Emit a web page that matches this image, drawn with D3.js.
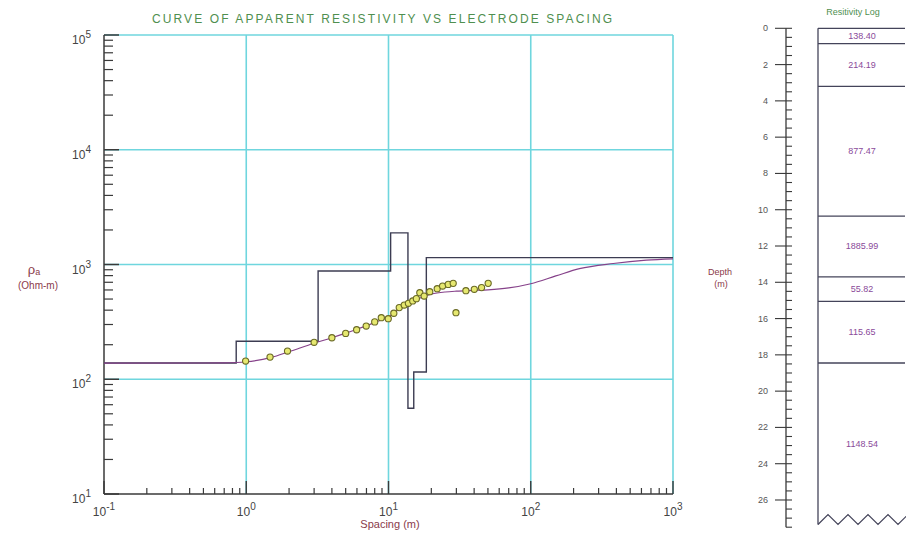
<!DOCTYPE html>
<html>
<head>
<meta charset="utf-8">
<script src="https://cdn.jsdelivr.net/npm/d3@7"></script>
<style>
  html, body { margin: 0; padding: 0; background: #fff; }
  svg { display: block; }
  text { font-family: "Liberation Sans", Arial, sans-serif; }
</style>
</head>
<body>
<svg id="chart" width="906" height="533"></svg>
<script>
// Field sounding: electrode spacing (m) and measured apparent resistivity (Ohm-m)
const spacing = [0.99, 1.47, 1.95, 3.0, 4.0, 5.0, 5.97, 6.97, 8.0, 8.9, 9.96, 10.9, 11.9, 12.9, 13.8, 14.8, 15.7, 16.6, 17.8, 19.5, 22.0, 24.0, 26.3, 28.5, 29.8, 35, 40.1, 45.1, 50.2];
const apparentRho = [144, 156, 176, 210, 230, 251, 270, 291, 316, 344, 337, 376, 421, 443, 459, 481, 504, 568, 531, 579, 615, 649, 671, 685, 380, 591, 608, 629, 685];

// Computed response of the layered model
const modelSpacing = [0.1, 0.5, 0.7, 1.0, 1.5, 2.0, 3.0, 4.0, 5.0, 6.0, 7.0, 8.0, 10, 12, 14, 16, 18, 20, 25, 30, 40, 50, 70, 100, 150, 220, 380, 650, 1000];
const modelRho = [138.4, 138.5, 139, 142, 155, 174, 206, 230, 252, 273, 293, 313, 350, 415, 460, 498, 532, 552, 576, 586, 595, 602, 625, 680, 795, 920, 1020, 1090, 1120];

// Interpreted layers: resistivity (Ohm-m) and depth to the bottom of each layer (m)
const layerRho = [138.40, 214.19, 877.47, 1885.99, 55.82, 115.65, 1148.54];
const layerBottom = [0.85, 3.2, 10.35, 13.7, 15.05, 18.45];

const xExponents = [-1, 0, 1, 2, 3];
const yExponents = [1, 2, 3, 4, 5];
const depthTicks = [0, 2, 4, 6, 8, 10, 12, 14, 16, 18, 20, 22, 24, 26];

const svg = d3.select("#chart");

const grid = "#6fd6de";
const axisCol = "#3a3a3a";
const labelCol = "#8a3a4a";

// ---------- Sounding curve panel ----------
const x = d3.scaleLog().domain([0.1, 1000]).range([104, 673]);
const y = d3.scaleLog().domain([10, 1e5]).range([494, 35]);

svg.append("text")
  .attr("x", 382).attr("y", 23)
  .attr("text-anchor", "middle")
  .attr("font-size", 12)
  .attr("fill", "#4f8f4f")
  .attr("textLength", 460).attr("lengthAdjust", "spacing")
  .text("CURVE OF APPARENT RESISTIVITY VS ELECTRODE SPACING");

// grid lines at each decade
const gx = svg.append("g");
xExponents.slice(1).forEach(e => {
  gx.append("line")
    .attr("x1", x(10 ** e)).attr("x2", x(10 ** e))
    .attr("y1", y(1e5)).attr("y2", y(10))
    .attr("stroke", grid).attr("stroke-width", 1.6);
});
yExponents.slice(1).forEach(e => {
  gx.append("line")
    .attr("x1", x(0.1)).attr("x2", x(1000))
    .attr("y1", y(10 ** e)).attr("y2", y(10 ** e))
    .attr("stroke", grid).attr("stroke-width", 1.6);
});

// y axis with inward ticks
const yAxis = svg.append("g");
yAxis.append("line")
  .attr("x1", 104).attr("x2", 104).attr("y1", y(1e5)).attr("y2", y(10))
  .attr("stroke", axisCol).attr("stroke-width", 1.5);
yExponents.forEach((e, i) => {
  yAxis.append("line")
    .attr("x1", 104).attr("x2", 119).attr("y1", y(10 ** e)).attr("y2", y(10 ** e))
    .attr("stroke", axisCol).attr("stroke-width", 1.5);
  if (i < yExponents.length - 1) {
    for (let m = 2; m <= 9; m++) {
      yAxis.append("line")
        .attr("x1", 104).attr("x2", 113)
        .attr("y1", y(m * 10 ** e)).attr("y2", y(m * 10 ** e))
        .attr("stroke", axisCol).attr("stroke-width", 1.2);
    }
  }
  const t = yAxis.append("text")
    .attr("x", 91).attr("y", y(10 ** e) + 9)
    .attr("text-anchor", "end")
    .attr("font-size", 12).attr("fill", "#444");
  t.append("tspan").text("10");
  t.append("tspan").attr("dy", -6).attr("font-size", 10).text(e);
});

// x axis with upward ticks
const xAxis = svg.append("g");
xAxis.append("line")
  .attr("x1", x(0.1)).attr("x2", x(1000)).attr("y1", 494).attr("y2", 494)
  .attr("stroke", axisCol).attr("stroke-width", 1.5);
xExponents.forEach((e, i) => {
  xAxis.append("line")
    .attr("x1", x(10 ** e)).attr("x2", x(10 ** e)).attr("y1", 494).attr("y2", 481)
    .attr("stroke", axisCol).attr("stroke-width", 1.4);
  if (i < xExponents.length - 1) {
    for (let m = 2; m <= 9; m++) {
      xAxis.append("line")
        .attr("x1", x(m * 10 ** e)).attr("x2", x(m * 10 ** e))
        .attr("y1", 494).attr("y2", 488)
        .attr("stroke", axisCol).attr("stroke-width", 1.2);
    }
  }
  const t = xAxis.append("text")
    .attr("x", x(10 ** e)).attr("y", 516)
    .attr("text-anchor", "middle")
    .attr("font-size", 12).attr("fill", "#444");
  t.append("tspan").text("10");
  t.append("tspan").attr("dy", -6).attr("font-size", 10).text(e < 0 ? "-" + (-e) : e);
});

// axis titles
const yt = svg.append("text").attr("x", 34).attr("y", 274)
  .attr("text-anchor", "middle").attr("fill", labelCol).attr("font-size", 13);
yt.append("tspan").text("ρ");
yt.append("tspan").attr("font-size", 9).attr("dy", 1).text("a");
svg.append("text").attr("x", 38).attr("y", 289)
  .attr("text-anchor", "middle").attr("fill", labelCol).attr("font-size", 10)
  .text("(Ohm-m)");
svg.append("text").attr("x", 390).attr("y", 528)
  .attr("text-anchor", "middle").attr("fill", labelCol).attr("font-size", 11)
  .text("Spacing (m)");

// layered model as a step line
const steps = [[0.1, layerRho[0]]];
layerBottom.forEach((b, i) => {
  steps.push([b, layerRho[i]]);
  steps.push([b, layerRho[i + 1]]);
});
steps.push([1000, layerRho[layerRho.length - 1]]);
svg.append("path")
  .datum(steps)
  .attr("fill", "none")
  .attr("stroke", "#3c3c52")
  .attr("stroke-width", 1.4)
  .attr("d", d3.line().x(d => x(d[0])).y(d => y(d[1])));

// model response curve
svg.append("path")
  .datum(modelSpacing.map((s, i) => [s, modelRho[i]]))
  .attr("fill", "none")
  .attr("stroke", "#86428a")
  .attr("stroke-width", 1.2)
  .attr("d", d3.line().curve(d3.curveMonotoneX).x(d => x(d[0])).y(d => y(d[1])));

// observed data
svg.append("g").selectAll("path")
  .data(spacing.map((s, i) => [s, apparentRho[i]]))
  .join("path")
  .attr("transform", d => `translate(${x(d[0])},${y(d[1])})`)
  .attr("d", d3.symbol().type(d3.symbolCircle).size(30))
  .attr("fill", "#e6e870")
  .attr("stroke", "#6a6a24")
  .attr("stroke-width", 1.1);

// ---------- Resistivity log panel ----------
const depth = d3.scaleLinear().domain([0, 27.5]).range([28.3, 527.2]);
const boxLeft = 818, boxRight = 905, axisX = 786;

svg.append("text")
  .attr("x", 853).attr("y", 15)
  .attr("text-anchor", "middle").attr("font-size", 9).attr("fill", "#4f8f4f")
  .text("Resitivity Log");

const dAxis = svg.append("g");
dAxis.append("line")
  .attr("x1", axisX).attr("x2", axisX).attr("y1", depth(0)).attr("y2", depth(27.5))
  .attr("stroke", axisCol).attr("stroke-width", 1.3);
d3.range(0, 27.51, 0.5).forEach(d => {
  const major = d % 2 === 0;
  dAxis.append("line")
    .attr("x1", major ? axisX - 11 : axisX).attr("x2", axisX + 6)
    .attr("y1", depth(d)).attr("y2", depth(d))
    .attr("stroke", axisCol).attr("stroke-width", 1.1);
});
depthTicks.forEach(d => {
  dAxis.append("text")
    .attr("x", 768).attr("y", depth(d) + 3)
    .attr("text-anchor", "end").attr("font-size", 9).attr("fill", "#555")
    .text(d);
});
svg.append("text").attr("x", 720).attr("y", 275)
  .attr("text-anchor", "middle").attr("fill", labelCol).attr("font-size", 9).text("Depth");
svg.append("text").attr("x", 721).attr("y", 287)
  .attr("text-anchor", "middle").attr("fill", labelCol).attr("font-size", 9).text("(m)");

// layer column
const logG = svg.append("g");
logG.append("line")
  .attr("x1", boxLeft).attr("x2", boxLeft).attr("y1", depth(0)).attr("y2", depth(27.35))
  .attr("stroke", "#44445a").attr("stroke-width", 1.3);
[0, ...layerBottom].forEach(b => {
  logG.append("line")
    .attr("x1", boxLeft).attr("x2", boxRight).attr("y1", depth(b)).attr("y2", depth(b))
    .attr("stroke", "#44445a").attr("stroke-width", 1.3);
});
const tops = [0, ...layerBottom];
const bottoms = [...layerBottom, 27.35];
layerRho.forEach((r, i) => {
  logG.append("text")
    .attr("x", 862).attr("y", depth((tops[i] + bottoms[i]) / 2) + 3)
    .attr("text-anchor", "middle").attr("font-size", 9).attr("fill", "#8a4a9a")
    .text(r.toFixed(2));
});
// zigzag marking the open-ended half-space
const zig = [];
for (let i = 0; i <= 9; i++) {
  zig.push([boxLeft + i * 10, i % 2 === 0 ? depth(27.35) : depth(26.8)]);
}
logG.append("path")
  .attr("d", d3.line()(zig))
  .attr("fill", "none").attr("stroke", "#44445a").attr("stroke-width", 1.2);
</script>
</body>
</html>
